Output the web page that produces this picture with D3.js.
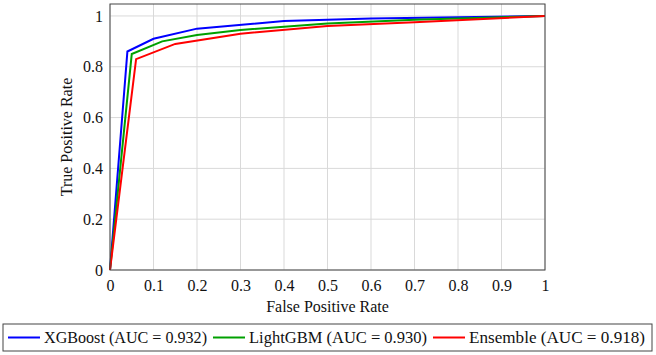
<!DOCTYPE html>
<html>
<head>
<meta charset="utf-8">
<script src="https://cdn.jsdelivr.net/npm/d3@7"></script>
<style>
  body { margin: 0; background: #fff; }
  svg text { font-family: "Liberation Serif", "Liberation Sans", serif; fill: #111; }
</style>
</head>
<body>
<div id="chart"></div>
<script>
// ROC points: [fpr, tpr]
var xgboost = [[0,0],[0.04,0.86],[0.1,0.91],[0.2,0.95],[0.4,0.98],[0.6,0.99],[0.8,0.995],[1,1]];
var lightgbm = [[0,0],[0.05,0.85],[0.12,0.90],[0.2,0.925],[0.3,0.945],[0.5,0.97],[0.7,0.985],[1,1]];
var ensemble = [[0,0],[0.06,0.83],[0.15,0.89],[0.3,0.93],[0.5,0.96],[0.7,0.975],[1,1]];

var seriesNames = ["XGBoost (AUC = 0.932)", "LightGBM (AUC = 0.930)", "Ensemble (AUC = 0.918)"];
var xTicks = [0,0.1,0.2,0.3,0.4,0.5,0.6,0.7,0.8,0.9,1];
var yTicks = [0,0.2,0.4,0.6,0.8,1];

var colors = ["#0000ff", "#00a000", "#ff0000"];

var W = 656, H = 355;
var margin = {top: 4, left: 110, right: 111, bottom: 85};
var width = W - margin.left - margin.right,
    height = H - margin.top - margin.bottom;

var svg = d3.select("#chart").append("svg")
    .attr("width", W).attr("height", H);

var g = svg.append("g")
    .attr("transform", "translate(" + margin.left + "," + margin.top + ")");

var xScale = d3.scaleLinear().domain([0, 1]).range([0, width]);
var yScale = d3.scaleLinear().domain([0, 1.047]).range([height, 0]);

// grid
g.selectAll(".vgrid").data(xTicks).enter().append("line")
    .attr("x1", d => xScale(d)).attr("x2", d => xScale(d))
    .attr("y1", 0).attr("y2", height)
    .attr("stroke", "#d9d9d9").attr("stroke-width", 1);
g.selectAll(".hgrid").data(yTicks).enter().append("line")
    .attr("x1", 0).attr("x2", width)
    .attr("y1", d => yScale(d)).attr("y2", d => yScale(d))
    .attr("stroke", "#d9d9d9").attr("stroke-width", 1);

// axes (labels only, frame drawn separately)
var xAxis = g.append("g")
    .attr("transform", "translate(0," + height + ")")
    .call(d3.axisBottom(xScale).tickValues(xTicks).tickSize(0).tickPadding(7)
        .tickFormat(d => d3.format("")(d)));
var yAxis = g.append("g")
    .call(d3.axisLeft(yScale).tickValues(yTicks).tickSize(0).tickPadding(7)
        .tickFormat(d => d3.format("")(d)));
[xAxis, yAxis].forEach(function(a) {
    a.select(".domain").remove();
    a.attr("font-family", null).attr("font-size", null);
    a.selectAll("text").style("font-size", "16px").attr("fill", "#111");
});
xAxis.selectAll("text").attr("dy", "0.85em");

// lines
var line = d3.line()
    .x(d => xScale(d[0]))
    .y(d => yScale(d[1]));

[xgboost, lightgbm, ensemble].forEach(function(s, i) {
    g.append("path")
        .datum(s)
        .attr("d", line)
        .attr("fill", "none")
        .attr("stroke", colors[i])
        .attr("stroke-width", 2)
        .attr("stroke-linejoin", "miter");
});

// frame
g.append("rect")
    .attr("x", 0).attr("y", 0).attr("width", width).attr("height", height)
    .attr("fill", "none").attr("stroke", "#444").attr("stroke-width", 1);

// axis titles
g.append("text")
    .attr("x", width / 2).attr("y", height + 42)
    .attr("text-anchor", "middle").style("font-size", "16px")
    .text("False Positive Rate");
g.append("text")
    .attr("transform", "translate(-38," + (height / 2) + ") rotate(-90)")
    .attr("text-anchor", "middle").style("font-size", "16px")
    .text("True Positive Rate");

// legend
var legend = svg.append("g").attr("transform", "translate(3,324)");
legend.append("rect")
    .attr("x", 0).attr("y", 0).attr("width", 649).attr("height", 27)
    .attr("fill", "#fff").attr("stroke", "#444").attr("stroke-width", 1);
var lx = [5, 210, 430];
var textW = [163, 178, 176];
seriesNames.forEach(function(name, i) {
    var item = legend.append("g").attr("transform", "translate(" + lx[i] + ",0)");
    item.append("line")
        .attr("x1", 0).attr("x2", 32).attr("y1", 13.5).attr("y2", 13.5)
        .attr("stroke", colors[i]).attr("stroke-width", 2);
    item.append("text")
        .attr("x", 36).attr("y", 19).style("font-size", "16px")
        .attr("textLength", textW[i]).attr("lengthAdjust", "spacingAndGlyphs")
        .text(name);
});
</script>
</body>
</html>
